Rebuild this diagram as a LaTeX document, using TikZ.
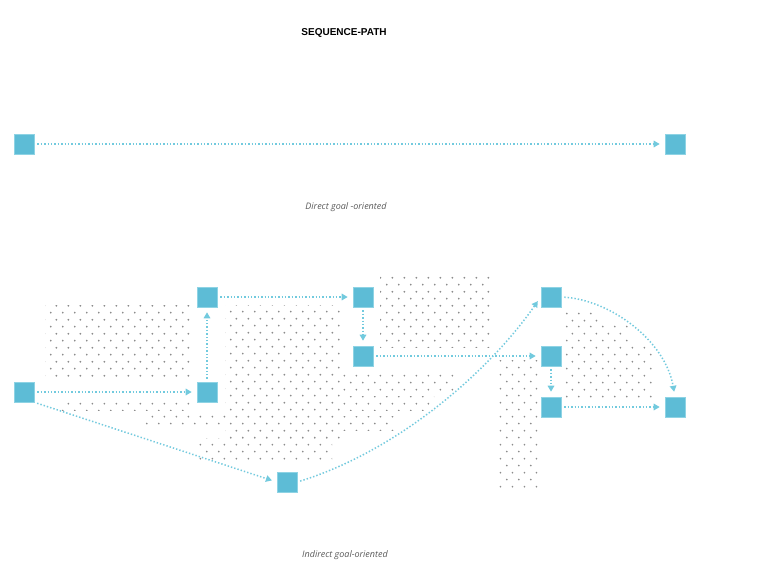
\documentclass[tikz,border=0pt]{standalone}
\usepackage{fontspec}
\setmainfont{Liberation Sans}
\newfontfamily\capfont{Open Sans}
\usetikzlibrary{arrows.meta,patterns}

\definecolor{stopblue}{HTML}{5DBCD6}
\definecolor{stopedge}{HTML}{8ED3E4}
\definecolor{linkblue}{HTML}{72CADE}
\definecolor{dotgray}{HTML}{8C8C8C}
\definecolor{capgray}{HTML}{5A5A5A}

% staggered grey dots for the background fields
\pgfdeclarepatternformonly{stipple}{\pgfpointorigin}{\pgfqpoint{12pt}{13.8pt}}{\pgfqpoint{12pt}{13.8pt}}{%
  \pgfpathcircle{\pgfqpoint{3pt}{3.45pt}}{1pt}%
  \pgfpathcircle{\pgfqpoint{9pt}{10.35pt}}{1pt}%
  \pgfusepath{fill}}

\begin{document}
\begin{tikzpicture}[x=1pt,y=-1pt,
    stop/.style={rectangle, fill=stopblue, draw=stopedge, line width=0.6pt, minimum size=20pt, inner sep=0pt},
    link/.style={draw=linkblue, line width=1.5pt, dash pattern=on 1.4pt off 2pt,
      -{Triangle[width=6.5pt,length=6pt]}, shorten <=3pt, shorten >=5pt},
    field/.style={pattern=stipple, pattern color=dotgray},
    caption/.style={font=\capfont\itshape\fontsize{9}{11}\selectfont, text=capgray}]
    \useasboundingbox (0,0) rectangle (762,565);
    \fill[white] (0,0) rectangle (762,565);

    % dotted fields
    \path[field] (45,305) rectangle (192,378);
    \path[field] (60,398) rectangle (192,410);
    \path[field] (225,305) rectangle (342,440);
    \path[field] (145,414) rectangle (225,428);
    \path[field] (197,438) rectangle (332,460);
    \path[field] (342,372) rectangle (455,392);
    \path[field] (342,396) rectangle (434,410);
    \path[field] (342,416) rectangle (395,430);
    \path[field] (380,276) rectangle (490,347);
    \path[field] (497,360) rectangle (538,490);
    \path[field] (563,310) rectangle (600,324);
    \path[field] (563,324) rectangle (630,345);
    \path[field] (563,345) rectangle (652,400);

    % stops
    \node[stop] (a) at (24,144) {};
    \node[stop] (b) at (675,144) {};
    \node[stop] (p1) at (24,392) {};
    \node[stop] (p2) at (207,392) {};
    \node[stop] (p3) at (207,297) {};
    \node[stop] (p4) at (363,297) {};
    \node[stop] (p5) at (363,356) {};
    \node[stop] (p6) at (287,482) {};
    \node[stop] (p7) at (551,297) {};
    \node[stop] (p8) at (551,356) {};
    \node[stop] (p9) at (551,407) {};
    \node[stop] (p10) at (675,407) {};

    % links
    \draw[link] (a) -- (b);
    \draw[link] (p1) -- (p2);
    \draw[link] (p2) -- (p3);
    \draw[link] (p3) -- (p4);
    \draw[link] (p4) -- (p5);
    \draw[link] (p5) -- (p8);
    \draw[link] (p8) -- (p9);
    \draw[link] (p9) -- (p10);
    \draw[link] (p1.south east) -- (p6.west);
    \draw[link] (p6.east) .. controls (400,450) and (490,370) .. (p7.west);
    \draw[link] (p7.east) .. controls (610,300) and (665,340) .. (p10.north);

    % texts
    \node[font=\bfseries\fontsize{10}{12}\selectfont] (title) at (344,33) {SEQUENCE-PATH};
    \node[caption] (direct) at (346,207) {Direct goal -oriented};
    \node[caption] (indirect) at (345,555) {Indirect goal-oriented};
\end{tikzpicture}
\end{document}
